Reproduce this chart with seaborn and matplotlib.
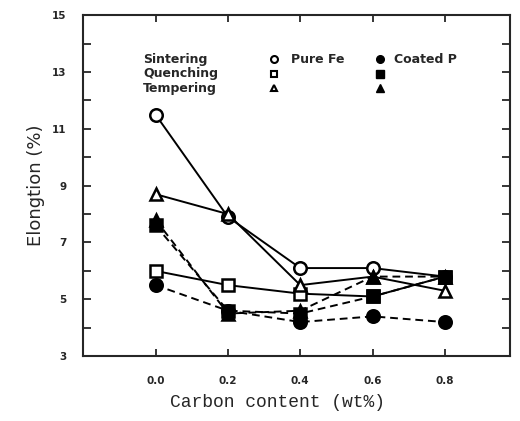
import pandas as pd
import seaborn as sns
import matplotlib
matplotlib.use("Agg")
import matplotlib.pyplot as plt
from matplotlib.ticker import MultipleLocator

# carbon content (wt%)
carbon = [0.0, 0.2, 0.4, 0.6, 0.8]
tick_labels = ["0.0", "0.2", "0.4", "0.6", "0.8"]

# elongation (%)
sint_pure = [11.5, 7.9, 6.1, 6.1, 5.8]
quench_pure = [6.0, 5.5, 5.2, 5.1, 5.8]
temper_pure = [8.7, 8.0, 5.5, 5.8, 5.3]
sint_coated = [5.5, 4.6, 4.2, 4.4, 4.2]
quench_coated = [7.6, 4.6, 4.5, 5.1, 5.8]
temper_coated = [7.8, 4.5, 4.6, 5.8, 5.8]

series = [
    ("Sintering", "Pure Fe", sint_pure, "o"),
    ("Quenching", "Pure Fe", quench_pure, "s"),
    ("Tempering", "Pure Fe", temper_pure, "^"),
    ("Sintering", "Coated P", sint_coated, "o"),
    ("Tempering", "Coated P", temper_coated, "^"),
    ("Quenching", "Coated P", quench_coated, "s"),
]

rows = []
for process, powder, vals, _ in series:
    for c, v in zip(carbon, vals):
        rows.append({"carbon": c, "elong": v, "process": process, "powder": powder})
df = pd.DataFrame(rows)

sns.set_style("ticks")
plt.rcParams["font.family"] = ["DejaVu Sans"]

fig = plt.figure(figsize=(5.2, 4.21), dpi=100)
ax = fig.add_axes([0.16, 0.154, 0.821, 0.81])

for i, (process, powder, vals, mk) in enumerate(series):
    sub = df[(df["process"] == process) & (df["powder"] == powder)]
    coated = powder == "Coated P"
    sns.lineplot(
        data=sub, x="carbon", y="elong", ax=ax,
        color="black", linewidth=1.4,
        linestyle=(0, (4, 2.5)) if coated else "-",
        marker=mk, markersize=9 if mk == "o" else 8,
        markerfacecolor="black" if coated else "white",
        markeredgecolor="black", markeredgewidth=1.8,
        legend=False, zorder=3 + i,
    )

ax.set_xlim(-0.2, 0.98)
ax.set_ylim(3, 15)
ax.set_xticks(carbon)
ax.set_xticklabels(tick_labels, fontsize=7.5, fontweight="bold")
ax.set_yticks(range(3, 16, 2))
ax.set_yticklabels([str(v) for v in range(3, 16, 2)], fontsize=7.5, fontweight="bold")
ax.yaxis.set_minor_locator(MultipleLocator(1))
ax.tick_params(which="both", direction="in", top=True, right=True, width=1.3)
ax.tick_params(axis="y", which="major", length=6, pad=12)
ax.tick_params(axis="y", which="minor", length=6)
ax.tick_params(axis="x", which="major", length=5, pad=14)
for sp in ax.spines.values():
    sp.set_linewidth(1.5)

ax.set_ylabel("Elongtion (%)", fontsize=13, labelpad=5)
ax.set_xlabel("Carbon content (wt%)", fontsize=13, family="Liberation Mono")
ax.xaxis.set_label_coords(0.455, -0.11)

# in-plot key
key_font = dict(fontsize=9, fontweight="bold", va="center")
key_y = [13.45, 12.94, 12.43]
for (name, _, _, mk), ky in zip(series[:3], key_y):
    ax.text(-0.035, ky, name, ha="left", **key_font)
for mk, ky in zip(["o", "s", "^"], key_y):
    ax.plot(0.326, ky, marker=mk, markersize=5, color="black",
            markerfacecolor="white", markeredgewidth=1.5, linestyle="none")
    ax.plot(0.62, ky, marker=mk, markersize=5.5, color="black",
            markerfacecolor="black", linestyle="none")
ax.text(0.375, key_y[0], "Pure Fe", ha="left", **key_font)
ax.text(0.66, key_y[0], "Coated P", ha="left", **key_font)

fig.savefig("out.png", dpi=100)
